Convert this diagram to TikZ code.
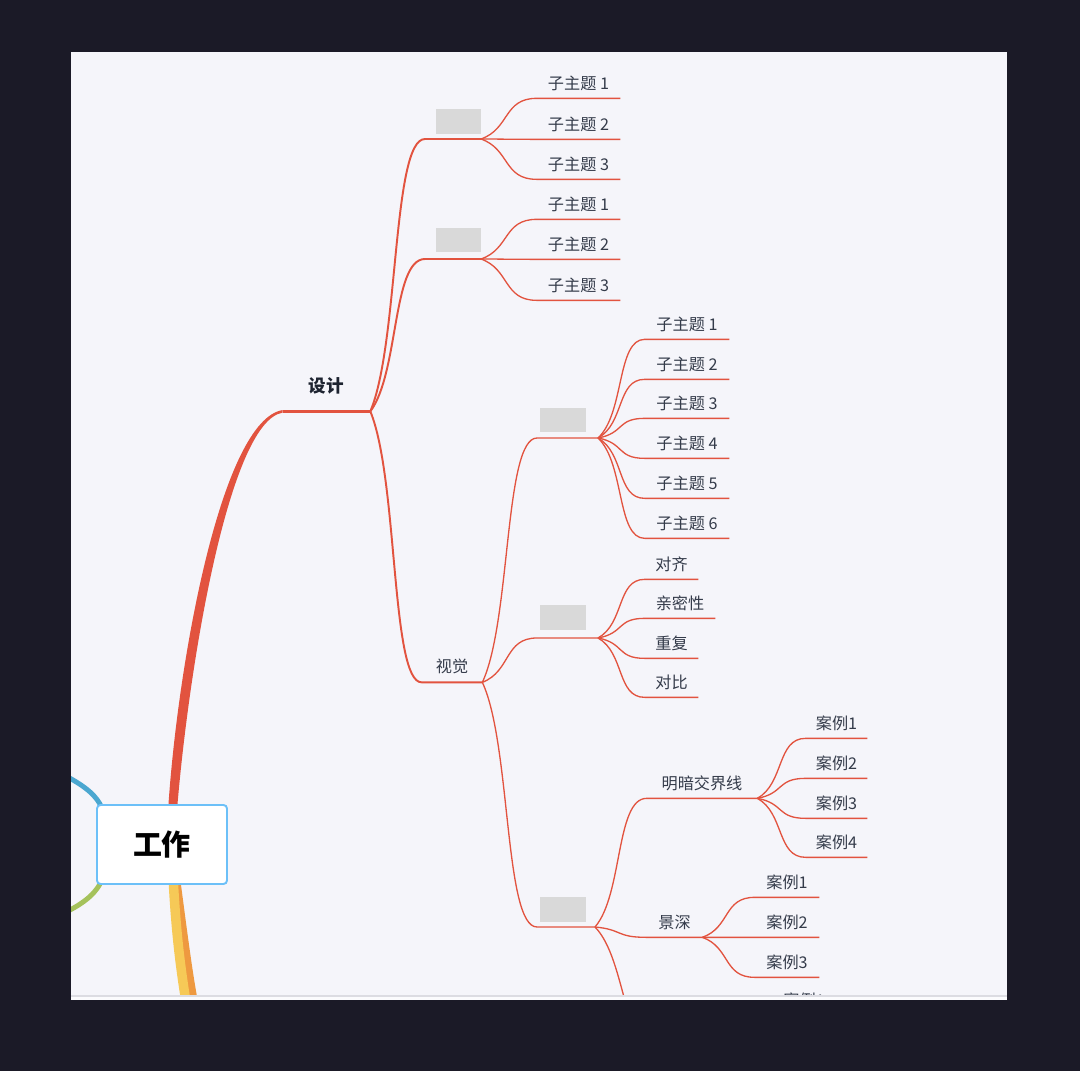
\documentclass[tikz,border=0pt]{standalone}
\usepackage{fontspec}
\setmainfont{Noto Sans CJK SC}
\usetikzlibrary{calc}

\definecolor{bgdark}{HTML}{1B1A27}
\definecolor{panel}{HTML}{F5F5FA}
\definecolor{stripgray}{HTML}{DCDCE2}
\definecolor{branchred}{HTML}{E2533F}
\definecolor{labeltxt}{HTML}{343B4A}
\definecolor{titletxt}{HTML}{1D2330}
\definecolor{boxgray}{HTML}{D9D9D9}
\definecolor{rootblue}{HTML}{6CC0F8}
\definecolor{arcblue}{HTML}{4BA7D0}
\definecolor{arcgreen}{HTML}{A5C25B}
\definecolor{branchyellow}{HTML}{F6C957}
\definecolor{branchorange}{HTML}{EE9940}

\pgfdeclarelayer{bg}
\pgfdeclarelayer{branches}
\pgfsetlayers{bg,branches,main}

\begin{document}
\begin{tikzpicture}[x=0.02cm,y=-0.02cm]
\tikzset{
  rootnode/.style={draw=rootblue,line width=1.1pt,fill=white,rounded corners=2pt,minimum width=2.6cm,minimum height=1.58cm,inner sep=0pt,font=\fontsize{16.5}{20}\selectfont\bfseries},
  topicnode/.style={minimum height=1cm,inner sep=0pt,text=titletxt,font=\fontsize{10}{12}\selectfont\bfseries},
  leafnode/.style={minimum height=0.6cm,inner sep=0pt,text=labeltxt,font=\fontsize{9.2}{11}\selectfont},
  blankbox/.style={fill=boxgray,minimum width=0.92cm,minimum height=0.5cm,inner sep=0pt},
  thinlink/.style={draw=branchred,line width=0.75pt},
  midlink/.style={draw=branchred,line width=1.1pt},
  curvy/.style={to path={.. controls ($(\tikztostart)!0.25!(\tikztotarget)+(15,0)$) and ($(\tikztotarget)!0.6!(\tikztostart|-\tikztotarget)$) .. (\tikztotarget) \tikztonodes}}
}
\useasboundingbox (0,0) rectangle (1080,1071);

% frame
\begin{pgfonlayer}{bg}
\fill[bgdark] (0,0) rectangle (1080,1071);
\fill[panel] (71,52) rectangle (1007,1000);
\end{pgfonlayer}

% root and first level
\node[rootnode] (n_work) at (162,844.5) {工作};
\node[topicnode,minimum width=1.74cm] (n_design) at (326.5,386) {设计};

\coordinate (e_blue) at (60,773);
\coordinate (e_green) at (60,915);
\coordinate (e_yellow) at (186,1002);
\coordinate (e_orange) at (194,1002);

\begin{pgfonlayer}{branches}
\begin{scope}
\clip (71,52) rectangle (1007,996);
\fill[branchred] ($(n_work.north)+(6.5,0)$) .. controls (178.5,658) and (222,420) .. ($(n_design.south west)+(0,-1.3)$)
  -- ($(n_design.south west)+(0,1.3)$) .. controls (230,421) and (190,658) .. ($(n_work.north)+(15.5,0)$) -- cycle;
\draw[arcblue,line width=2.8pt] ($(n_work.north west)+(6,4)$) .. controls (97,797) and (88,787) .. (e_blue);
\draw[arcgreen,line width=2.8pt] ($(n_work.south west)+(6,-5)$) .. controls (97,891) and (88,902) .. (e_green);
\fill[branchorange] ($(n_work.south)+(15,0)$) -- ($(n_work.south)+(19,0)$) .. controls (187,930) and (192,970) .. ($(e_orange)+(4,0)$)
  -- ($(e_orange)+(-4,0)$) .. controls (184,970) and (180,930) .. ($(n_work.south)+(15,0)$) -- cycle;
\draw[branchyellow,line width=5.4pt] ($(n_work.south)+(11.5,0)$) .. controls (176,930) and (180,965) .. (e_yellow);
\end{scope}
\end{pgfonlayer}

\begin{scope}
\clip (71,52) rectangle (1007,996);
\draw[branchred,line width=1.7pt] (n_design.south west) -- (n_design.south east);

% first blank topic
\coordinate (s_a) at (425,139);
\coordinate (h_a) at (481,139);
\node[blankbox] (n_box_a) at (458.5,121.5) {};
\draw[midlink] (n_design.south east) to[curvy] (s_a) -- (h_a);
\node[leafnode,minimum width=1.66cm] (n_a1) at (578.5,83) {子主题 1};
\node[leafnode,minimum width=1.66cm] (n_a2) at (578.5,124) {子主题 2};
\node[leafnode,minimum width=1.66cm] (n_a3) at (578.5,164) {子主题 3};
\draw[thinlink] (h_a) to[curvy] (n_a1.south west) -- (n_a1.south east);
\draw[thinlink] (h_a) to[curvy] (n_a2.south west) -- (n_a2.south east);
\draw[thinlink] (h_a) to[curvy] (n_a3.south west) -- (n_a3.south east);

% second blank topic
\coordinate (s_b) at (425,259);
\coordinate (h_b) at (481,259);
\node[blankbox] (n_box_b) at (458.5,240) {};
\draw[midlink] (n_design.south east) to[curvy] (s_b) -- (h_b);
\node[leafnode,minimum width=1.66cm] (n_b1) at (578.5,204) {子主题 1};
\node[leafnode,minimum width=1.66cm] (n_b2) at (578.5,244) {子主题 2};
\node[leafnode,minimum width=1.66cm] (n_b3) at (578.5,285) {子主题 3};
\draw[thinlink] (h_b) to[curvy] (n_b1.south west) -- (n_b1.south east);
\draw[thinlink] (h_b) to[curvy] (n_b2.south west) -- (n_b2.south east);
\draw[thinlink] (h_b) to[curvy] (n_b3.south west) -- (n_b3.south east);

% visual
\node[leafnode,minimum width=1.2cm,minimum height=0.64cm] (n_visual) at (452,666) {视觉};
\draw[midlink] (n_design.south east) to[curvy] (n_visual.south west) -- (n_visual.south east);

\coordinate (s_c) at (537,438);
\coordinate (h_c) at (598,438);
\node[blankbox] (n_box_c) at (563,420) {};
\draw[thinlink] (n_visual.south east) to[curvy] (s_c) -- (h_c);
\node[leafnode,minimum width=1.68cm] (n_c1) at (687,324) {子主题 1};
\node[leafnode,minimum width=1.68cm] (n_c2) at (687,364) {子主题 2};
\node[leafnode,minimum width=1.68cm] (n_c3) at (687,403) {子主题 3};
\node[leafnode,minimum width=1.68cm] (n_c4) at (687,443) {子主题 4};
\node[leafnode,minimum width=1.68cm] (n_c5) at (687,483) {子主题 5};
\node[leafnode,minimum width=1.68cm] (n_c6) at (687,523) {子主题 6};
\draw[thinlink] (h_c) to[curvy] (n_c1.south west) -- (n_c1.south east);
\draw[thinlink] (h_c) to[curvy] (n_c2.south west) -- (n_c2.south east);
\draw[thinlink] (h_c) to[curvy] (n_c3.south west) -- (n_c3.south east);
\draw[thinlink] (h_c) to[curvy] (n_c4.south west) -- (n_c4.south east);
\draw[thinlink] (h_c) to[curvy] (n_c5.south west) -- (n_c5.south east);
\draw[thinlink] (h_c) to[curvy] (n_c6.south west) -- (n_c6.south east);

\coordinate (s_d) at (537,638);
\coordinate (h_d) at (598,638);
\node[blankbox] (n_box_d) at (563,617.5) {};
\draw[thinlink] (n_visual.south east) to[curvy] (s_d) -- (h_d);
\node[leafnode,minimum width=1.06cm] (n_align) at (671.5,564) {对齐};
\node[leafnode,minimum width=1.4cm] (n_near) at (680,603) {亲密性};
\node[leafnode,minimum width=1.06cm] (n_repeat) at (671.5,643) {重复};
\node[leafnode,minimum width=1.06cm] (n_contrast) at (671.5,682) {对比};
\draw[thinlink] (h_d) to[curvy] (n_align.south west) -- (n_align.south east);
\draw[thinlink] (h_d) to[curvy] (n_near.south west) -- (n_near.south east);
\draw[thinlink] (h_d) to[curvy] (n_repeat.south west) -- (n_repeat.south east);
\draw[thinlink] (h_d) to[curvy] (n_contrast.south west) -- (n_contrast.south east);

\coordinate (s_e) at (537,927);
\coordinate (h_e) at (595,927);
\coordinate (e_more) at (665,1060);
\node[blankbox] (n_box_e) at (563,909.5) {};
\draw[thinlink] (n_visual.south east) to[curvy] (s_e) -- (h_e);
\node[leafnode,minimum width=2.2cm] (n_light) at (702,783) {明暗交界线};
\node[leafnode,minimum width=1.1cm] (n_depth) at (674.5,922) {景深};
\draw[thinlink] (h_e) to[curvy] (n_light.south west) -- (n_light.south east);
\draw[thinlink] (h_e) to[curvy] (n_depth.south west) -- (n_depth.south east);
\draw[thinlink] (h_e) to[curvy] (e_more);

% cases
\node[leafnode,minimum width=1.22cm] (n_l1) at (836.5,723) {案例1};
\node[leafnode,minimum width=1.22cm] (n_l2) at (836.5,763) {案例2};
\node[leafnode,minimum width=1.22cm] (n_l3) at (836.5,803) {案例3};
\node[leafnode,minimum width=1.22cm] (n_l4) at (836.5,842) {案例4};
\draw[thinlink] (n_light.south east) to[curvy] (n_l1.south west) -- (n_l1.south east);
\draw[thinlink] (n_light.south east) to[curvy] (n_l2.south west) -- (n_l2.south east);
\draw[thinlink] (n_light.south east) to[curvy] (n_l3.south west) -- (n_l3.south east);
\draw[thinlink] (n_light.south east) to[curvy] (n_l4.south west) -- (n_l4.south east);

\node[leafnode,minimum width=1.28cm] (n_d1) at (787,882) {案例1};
\node[leafnode,minimum width=1.28cm] (n_d2) at (787,922) {案例2};
\node[leafnode,minimum width=1.28cm] (n_d3) at (787,962) {案例3};
\draw[thinlink] (n_depth.south east) to[curvy] (n_d1.south west) -- (n_d1.south east);
\draw[thinlink] (n_depth.south east) to[curvy] (n_d2.south west) -- (n_d2.south east);
\draw[thinlink] (n_depth.south east) to[curvy] (n_d3.south west) -- (n_d3.south east);

\node[leafnode,minimum width=1.28cm] (n_more1) at (804,1000) {案例1};
\end{scope}

% bottom strip
\fill[white!60!panel] (71,996) rectangle (1007,1000);
\draw[stripgray,line width=0.6pt] (71,996) -- (1007,996);
\end{tikzpicture}
\end{document}
